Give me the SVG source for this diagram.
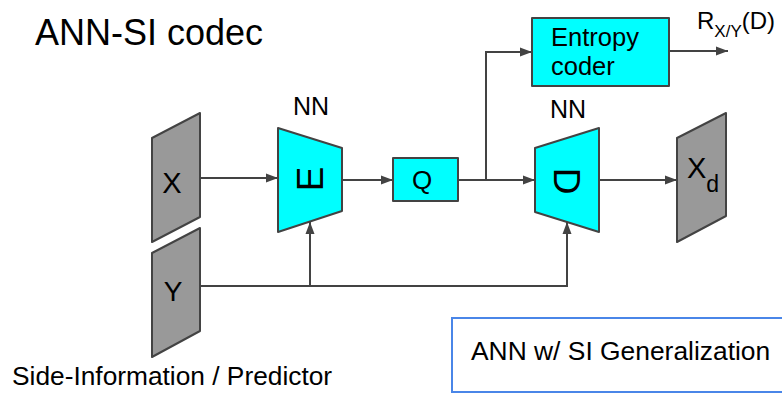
<svg xmlns="http://www.w3.org/2000/svg" width="782" height="394" viewBox="0 0 782 394">
<defs>
<style>
text{font-family:"Liberation Sans",Arial,sans-serif;fill:#000}
.gray{fill:#999;stroke:#434343;stroke-width:2;stroke-linejoin:round}
.cyan{fill:#0ff;stroke:#434343;stroke-width:2;stroke-linejoin:round}
.conn{fill:none;stroke:#434343;stroke-width:2;marker-end:url(#ah)}
</style>
<marker id="ah" markerUnits="userSpaceOnUse" markerWidth="14" markerHeight="10" refX="12" refY="5" orient="auto">
<path d="M0,0.5 L12,5 L0,9.5 Z" fill="#434343"/>
</marker>
</defs>
<rect width="782" height="394" fill="#fff"/>
<text x="35" y="45" font-size="36">ANN-SI codec</text>

<g id="connectors">
<path class="conn" d="M200,178 H278"/>
<path class="conn" d="M342,180 H393"/>
<path class="conn" d="M458,180 H535"/>
<path class="conn" d="M486,180 V52 H532"/>
<path class="conn" d="M669,51 H728"/>
<path class="conn" d="M599,180 H677"/>
<path class="conn" d="M200,286 H310 V222"/>
<path class="conn" d="M310,286 H567 V222"/>
</g>

<g id="nodeX">
<polygon class="gray" points="152,138 200,113 200,217 152,242"/>
<text x="172" y="193" font-size="29" text-anchor="middle">X</text>
</g>
<g id="nodeY">
<polygon class="gray" points="152,253 200,228 200,331 152,357"/>
<text x="173" y="301" font-size="28" text-anchor="middle">Y</text>
</g>
<g id="nodeE">
<text x="311" y="115" font-size="25" text-anchor="middle">NN</text>
<polygon class="cyan" points="278,128 342,148 342,211 278,232"/>
<text x="310" y="179" font-size="37" text-anchor="middle" dominant-baseline="central" transform="rotate(-90 310 179)">E</text>
</g>
<g id="nodeQ">
<rect class="cyan" x="393" y="158" width="65" height="43"/>
<text x="422" y="189" font-size="26" text-anchor="middle">Q</text>
</g>
<g id="nodeEntropy">
<rect class="cyan" x="532" y="18" width="137" height="68"/>
<text x="551" y="46" font-size="25.5">Entropy</text>
<text x="551" y="75" font-size="25.5">coder</text>
</g>
<g id="nodeRate">
<text x="697" y="29" font-size="24">R<tspan font-size="17" dy="8">X/Y</tspan><tspan dy="-8">(D)</tspan></text>
</g>
<g id="nodeD">
<text x="568" y="118" font-size="25" text-anchor="middle">NN</text>
<polygon class="cyan" points="535,148 599,128 599,232 535,212"/>
<text x="566" y="181" font-size="37" text-anchor="middle" dominant-baseline="central" transform="rotate(90 566 181)">D</text>
</g>
<g id="nodeXd">
<polygon class="gray" points="677,138 726,113 726,216 677,242"/>
<text x="687" y="178" font-size="29">X<tspan font-size="23" dy="14">d</tspan></text>
</g>
<g id="sideInfo">
<text x="12" y="385" font-size="26.3">Side-Information / Predictor</text>
</g>
<g id="annBox">
<rect x="452" y="318" width="336" height="74" fill="#fff" stroke="#4a86e8" stroke-width="2"/>
<text x="471" y="360" font-size="26.4">ANN w/ SI Generalization</text>
</g>
</svg>
